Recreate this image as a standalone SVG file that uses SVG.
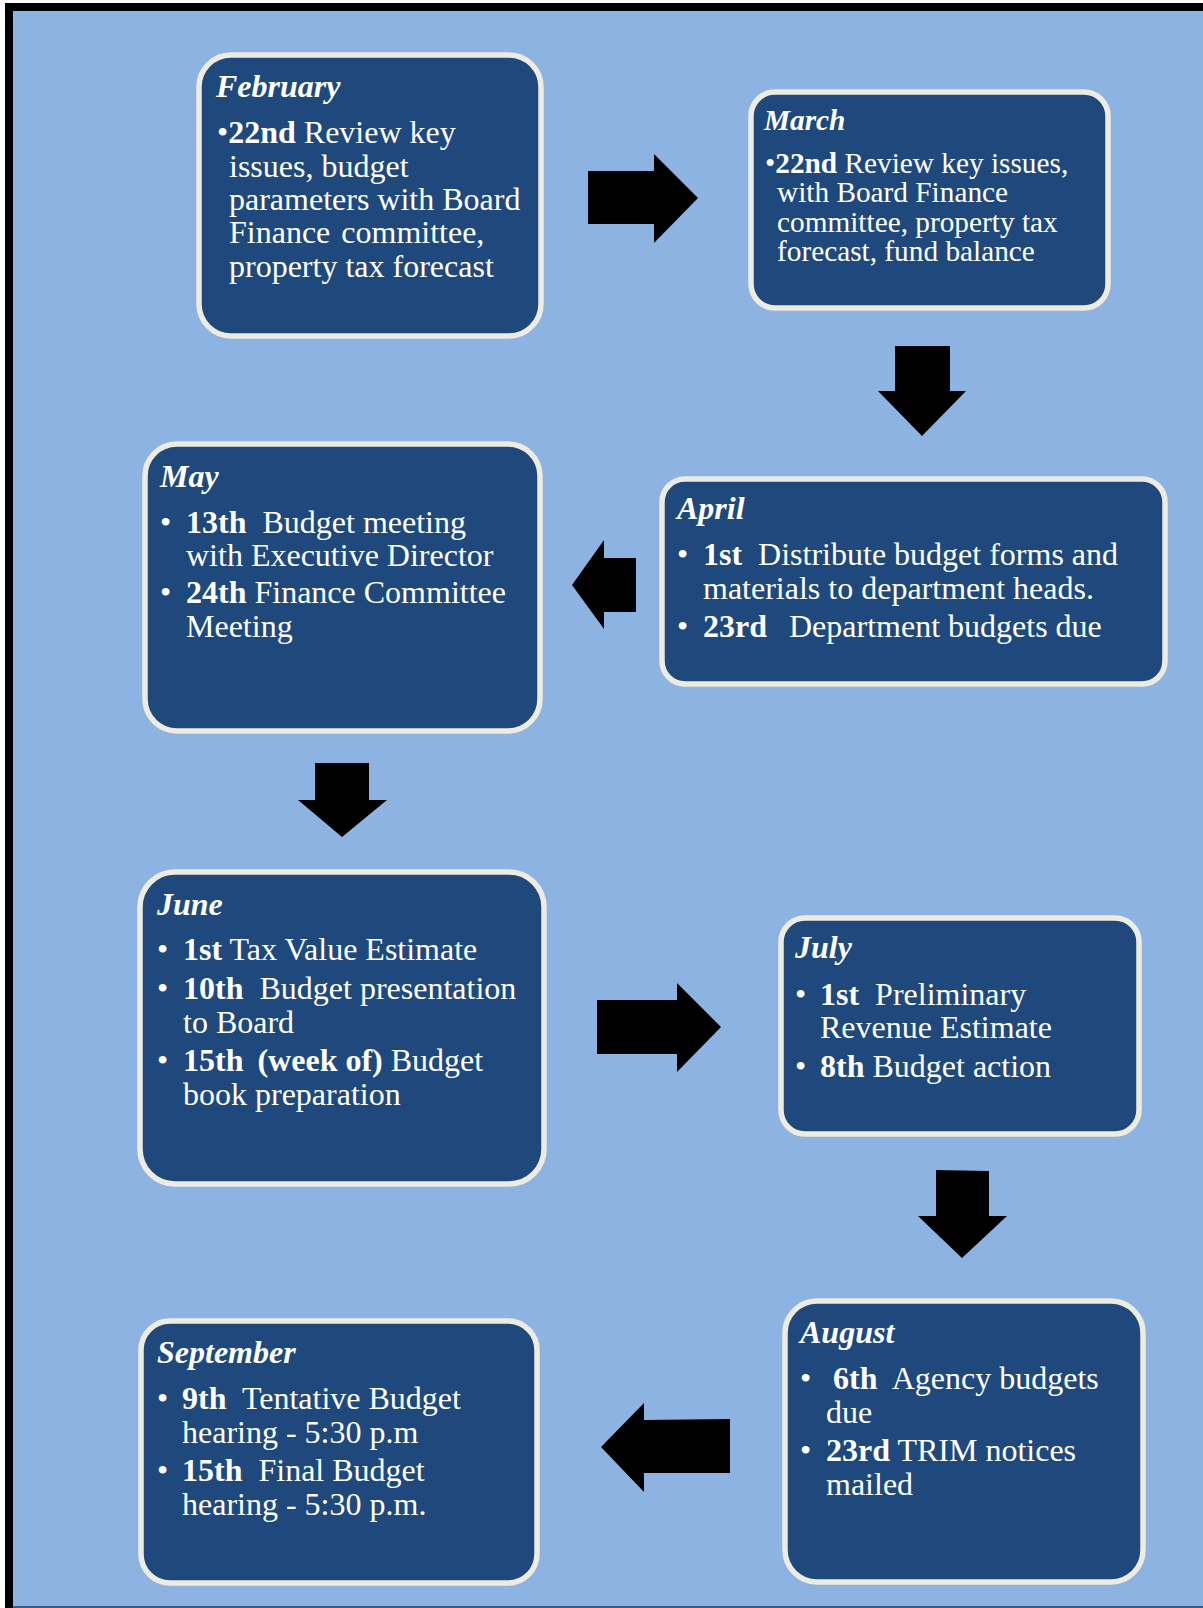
<svg xmlns="http://www.w3.org/2000/svg" width="1203" height="1608" viewBox="0 0 1203 1608">
<style>
.box{fill:#1F497D;stroke:#EEECE1;stroke-width:5.5}
.arrow{fill:#000}
text{font-family:"Liberation Serif","Times New Roman",serif;fill:#fff;font-size:32px}
.t{font-weight:bold;font-style:italic}
.b{font-weight:bold}
.sm{font-size:29.3px}
</style>
<rect x="0" y="0" width="1203" height="1608" fill="#fff"/>
<rect x="5" y="3" width="1210" height="1620" fill="#000"/>
<rect x="13" y="11" width="1200" height="1610" fill="#8DB3E2"/>
<rect x="13" y="1606" width="1190" height="2" fill="#3B5B82"/>

<g id="connectors">
<polygon class="arrow" points="588,171 654,171 654,154 698,198 654,243 654,224 588,224"/>
<polygon class="arrow" points="895,346 950,346 950,391 966,391 922,436 878,391 895,391"/>
<polygon class="arrow" points="636,558 604,558 604,540 572,585 604,629 604,612 636,612"/>
<polygon class="arrow" points="315,763 369,763 369,800 387,800 342,837 298,800 315,800"/>
<polygon class="arrow" points="597,1000 677,1000 677,983 721,1027 677,1072 677,1054 597,1054"/>
<polygon class="arrow" points="936,1170 989,1171 989,1216 1007,1216 962,1258 918,1216 936,1216"/>
<polygon class="arrow" points="730,1419 644,1420 644,1403 601,1447 644,1492 644,1473 730,1473"/>
</g>

<g id="february">
<rect class="box" x="199" y="55" width="342" height="281" rx="32"/>
<text class="t" x="216" y="97">February</text>
<text x="217" y="143">•<tspan class="b">22nd</tspan> Review key</text>
<text x="229" y="177">issues, budget</text>
<text x="229" y="210">parameters with Board</text>
<text x="229" y="243">Finance <tspan dx="3">committee,</tspan></text>
<text x="229" y="277">property tax forecast</text>
</g>

<g id="march">
<rect class="box" x="751" y="92" width="357" height="216" rx="24"/>
<text class="t sm" x="764" y="130">March</text>
<text class="sm" x="765" y="173">•<tspan class="b">22nd</tspan> Review key issues,</text>
<text class="sm" x="777" y="202">with Board Finance</text>
<text class="sm" x="777" y="232">committee, property tax</text>
<text class="sm" x="777" y="261">forecast, fund balance</text>
</g>

<g id="april">
<rect class="box" x="662" y="479" width="503" height="205" rx="23"/>
<text class="t" x="677" y="519">April</text>
<text x="677" y="565">•</text>
<text x="703" y="565"><tspan class="b">1st</tspan><tspan dx="8"> Distribute budget forms and</tspan></text>
<text x="703" y="599">materials to department heads.</text>
<text x="677" y="637">•</text>
<text x="703" y="637"><tspan class="b">23rd</tspan></text>
<text x="789" y="637">Department budgets due</text>
</g>

<g id="may">
<rect class="box" x="145" y="444" width="395" height="287" rx="32"/>
<text class="t" x="160" y="487">May</text>
<text x="160" y="533">•</text>
<text x="186" y="533"><tspan class="b">13th</tspan><tspan dx="8"> Budget meeting</tspan></text>
<text x="186" y="566">with Executive Director</text>
<text x="160" y="603">•</text>
<text x="186" y="603"><tspan class="b">24th</tspan> Finance Committee</text>
<text x="186" y="637">Meeting</text>
</g>

<g id="june">
<rect class="box" x="140" y="872" width="404" height="312" rx="35"/>
<text class="t" x="157" y="915">June</text>
<text x="157" y="960">•</text>
<text x="183" y="960"><tspan class="b">1st</tspan> Tax Value Estimate</text>
<text x="157" y="999">•</text>
<text x="183" y="999"><tspan class="b">10th</tspan><tspan dx="8"> Budget presentation</tspan></text>
<text x="183" y="1033">to Board</text>
<text x="157" y="1071">•</text>
<text x="183" y="1071"><tspan class="b">15th</tspan><tspan class="b" dx="6"> (week of)</tspan> Budget</text>
<text x="183" y="1105">book preparation</text>
</g>

<g id="july">
<rect class="box" x="781" y="918" width="358" height="216" rx="24"/>
<text class="t" x="795" y="958">July</text>
<text x="795" y="1005">•</text>
<text x="820" y="1005"><tspan class="b">1st</tspan><tspan dx="8"> Preliminary</tspan></text>
<text x="820" y="1038">Revenue Estimate</text>
<text x="795" y="1077">•</text>
<text x="820" y="1077"><tspan class="b">8th</tspan> Budget action</text>
</g>

<g id="august">
<rect class="box" x="785" y="1301" width="358" height="281" rx="32"/>
<text class="t" x="800" y="1343">August</text>
<text x="800" y="1389">•</text>
<text x="833" y="1389"><tspan class="b">6th</tspan><tspan dx="8"> Agency budgets</tspan></text>
<text x="826" y="1423">due</text>
<text x="800" y="1461">•</text>
<text x="826" y="1461"><tspan class="b">23rd</tspan> TRIM notices</text>
<text x="826" y="1495">mailed</text>
</g>

<g id="september">
<rect class="box" x="141" y="1321" width="396" height="262" rx="29"/>
<text class="t" x="157" y="1363">September</text>
<text x="157" y="1409">•</text>
<text x="182" y="1409"><tspan class="b">9th</tspan><tspan dx="8"> Tentative Budget</tspan></text>
<text x="182" y="1443">hearing - 5:30 p.m</text>
<text x="157" y="1481">•</text>
<text x="182" y="1481"><tspan class="b">15th</tspan><tspan dx="8"> Final Budget</tspan></text>
<text x="182" y="1515">hearing - 5:30 p.m.</text>
</g>
</svg>
